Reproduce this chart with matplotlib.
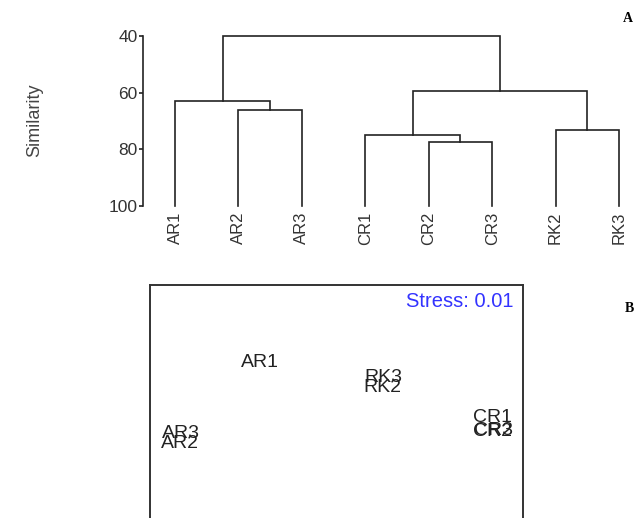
import matplotlib
matplotlib.use("Agg")
import matplotlib.pyplot as plt

plt.rcParams['font.family'] = ['Liberation Sans', 'DejaVu Sans']

# ---- Dendrogram data (group-average similarity, %) ----
leaves = ["AR1", "AR2", "AR3", "CR1", "CR2", "CR3", "RK2", "RK3"]
# merges: (left child, right child, similarity). Children: leaf names or merge index "m#"
merge_left = ["AR2", "AR1", "CR2", "CR1", "RK2", "m3", "m1"]
merge_right = ["AR3", "m0", "CR3", "m2", "RK3", "m4", "m5"]
merge_sim = [66.1, 62.8, 77.3, 74.9, 73.2, 59.4, 40.1]
sim_ticks = [40, 60, 80, 100]

# ---- MDS data ----
mds_labels = ["AR1", "AR3", "AR2", "RK3", "RK2", "CR1", "CR2", "CR3"]
mds_x = [2.95, 0.83, 0.80, 6.25, 6.22, 9.17, 9.17, 9.21]
mds_y = [7.91, 6.03, 5.74, 7.53, 7.24, 6.46, 6.06, 6.11]
stress_text = "Stress: 0.01"

W, H = 635, 518
fig = plt.figure(figsize=(W / 100, H / 100), dpi=100)
fig.patch.set_facecolor("white")


def frac(x0, y0, x1, y1):
    return [x0 / W, 1 - y1 / H, (x1 - x0) / W, (y1 - y0) / H]


# ---------------- Dendrogram ----------------
ax = fig.add_axes(frac(143, 36, 635, 206))
spacing = 63.4
ax.set_xlim(-(175 - 143) / spacing, 7 + (635 - 619) / spacing)
ax.set_ylim(100, 40)

pos = {name: (i, 100.0) for i, name in enumerate(leaves)}
lc = "#222222"
for k, (a, b, s) in enumerate(zip(merge_left, merge_right, merge_sim)):
    xa, ya = pos[a]
    xb, yb = pos[b]
    ax.plot([xa, xa, xb, xb], [ya, s, s, yb], color=lc, lw=1.2,
            solid_joinstyle="miter", clip_on=False)
    pos["m%d" % k] = ((xa + xb) / 2, s)

for sp in ["top", "right", "bottom"]:
    ax.spines[sp].set_visible(False)
ax.spines["left"].set_color(lc)
ax.spines["left"].set_linewidth(1.2)
ax.set_yticks(sim_ticks)
ax.set_yticklabels([str(t) for t in sim_ticks], fontsize=12.5, color="#333333")
ax.tick_params(axis="y", length=3, width=1.2, color=lc, pad=1)
ax.set_xticks(range(len(leaves)))
ax.set_xticklabels(leaves, rotation=90, fontsize=12, color="#333333")
ax.tick_params(axis="x", length=0, pad=4)
ax.set_facecolor("none")
fig.text(35 / W, 1 - 120 / H, "Similarity", rotation=90, ha="center",
         va="center", fontsize=13, color="#444444")

# ---------------- MDS ----------------
ax2 = fig.add_axes(frac(150, 285, 523, 658))
ax2.set_xlim(0, 10)
ax2.set_ylim(0, 10)
ax2.set_xticks([])
ax2.set_yticks([])
for sp in ax2.spines.values():
    sp.set_color("#333333")
    sp.set_linewidth(1.4)
for lab, x, y in zip(mds_labels, mds_x, mds_y):
    ax2.text(x, y, lab, ha="center", va="center", fontsize=14, color="#222222")
ax2.text(0.975, 0.955, stress_text, transform=ax2.transAxes, ha="right",
         va="center", fontsize=14.5, color="#3333ff")

# Panel letters
fig.text(623 / W, 1 - 18 / H, "A", fontsize=10, fontweight="bold",
         family=["Liberation Serif", "DejaVu Serif"], ha="left", va="center")
fig.text(625 / W, 1 - 308 / H, "B", fontsize=10, fontweight="bold",
         family=["Liberation Serif", "DejaVu Serif"], ha="left", va="center")

fig.savefig("out.png", dpi=100)
